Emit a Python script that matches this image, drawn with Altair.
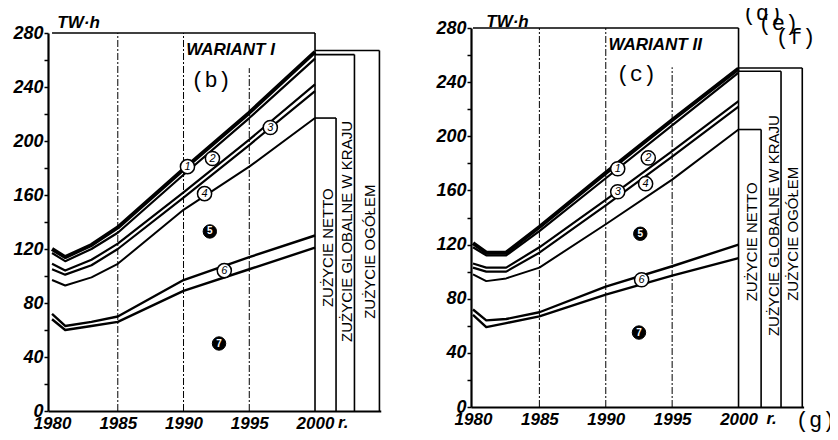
import altair as alt
import pandas as pd

SANS = "Liberation Sans"
MONO = "Liberation Mono"

# ---------------- WARIANT I (left panel) ----------------
years_a = [1980, 1981, 1983, 1985, 1990, 1995, 2000]
a1 = [120, 114, 123, 136, 179, 221, 266]
a2 = [117, 111, 120, 132, 175, 217, 261]
a3 = [109, 104, 112, 124, 162, 201, 242]
a4 = [105, 101, 108, 120, 158, 197, 237]
a5 = [97, 93, 99, 109, 149, 181, 217]
a6u = [72, 63, 66, 70, 97, 114, 130]
a6l = [68, 60, 63, 66, 89, 105, 121]

# ---------------- WARIANT II (right panel) ----------------
years_b = [1980, 1981, 1982.5, 1985, 1990, 1995, 2000]
b1 = [121, 114, 114, 133, 173, 212, 250]
b2 = [118, 112, 112, 130, 169, 208, 247]
b3 = [106, 103, 103, 118, 153, 189, 226]
b4 = [103, 100, 100, 114, 149, 185, 222]
b5 = [98, 93, 95, 103, 135, 168, 205]
b6u = [72, 64, 65, 70, 89, 104, 120]
b6l = [68, 59, 62, 67, 83, 97, 110]

line_widths = [4.0, 2.2, 2.2, 2.2, 2.0, 2.4, 2.4]

# consumption categories at year 2000 (bracket levels)
cat_labels = ["ZUŻYCIE NETTO", "ZUŻYCIE GLOBALNE W KRAJU", "ZUŻYCIE OGÓŁEM"]
a_levels = [217, 264, 267]
b_levels = [205, 248, 250.5]
a_ends = [2001.6, 2003.0, 2004.9]
b_ends = [2001.7, 2003.2, 2004.8]
a_txt_x = [2001.0, 2002.45, 2004.2]
a_txt_y = [121, 133, 118]
b_txt_x = [2001.05, 2002.65, 2004.1]
b_txt_y = [122, 134, 128]

# circled markers
circ_txt = ["1", "2", "3", "4", "5", "6", "7"]
circ_filled = [False, False, False, False, True, False, True]
a_circ_x = [1990.3, 1992.2, 1996.6, 1991.6, 1992.0, 1993.1, 1992.7]
a_circ_y = [181, 187, 210, 161, 133, 104, 50]
b_circ_x = [1990.9, 1993.2, 1990.9, 1993.0, 1992.6, 1992.7, 1992.5]
b_circ_y = [176, 184, 159, 165, 128, 94, 55]

x_ticks = [1980, 1985, 1990, 1995, 2000]
y_ticks = list(range(0, 281, 20))


def lines_df(years, series):
    rows = []
    for i, s in enumerate(series):
        for yr, v in zip(years, s):
            rows.append({"x": yr, "y": v, "s": i, "w": line_widths[i]})
    return pd.DataFrame(rows)


def panel(years, series, levels, ends, txt_x, txt_y, cx, cy, xdom, xr, yr,
          xoff, yoff, top95, title_pos, r_x, wariant, wariant_pos, letter,
          letter_pos, extra_letters=None):
    sx = alt.Scale(domain=xdom, range=xr, nice=False, zero=False)
    sy = alt.Scale(domain=[0, 280], range=yr, nice=False, zero=False)
    xa = alt.Axis(orient="bottom", offset=xoff, values=x_ticks, format="d",
                  ticks=False, tickSize=0, grid=False, domainWidth=2.2,
                  domainColor="black", labelColor="black", labelFont=SANS,
                  labelFontSize=17, labelFontStyle="italic", labelFontWeight="bold",
                  labelPadding=17, labelBaseline="alphabetic",
                  labelOverlap=False, labelFlush=False)
    ya = alt.Axis(orient="left", offset=yoff, values=y_ticks,
                  labelExpr="datum.value % 40 == 0 ? datum.label : ''",
                  tickSize=4, tickWidth=1.5, tickColor="black", grid=False,
                  domainWidth=2.2, domainColor="black", labelColor="black",
                  labelFont=SANS, labelFontSize=18, labelFontStyle="italic",
                  labelFontWeight="bold", labelPadding=1,
                  labelOverlap=False, labelFlush=False)
    X = alt.X("x:Q", scale=sx, axis=xa, title=None)
    Y = alt.Y("y:Q", scale=sy, axis=ya, title=None)

    grid = pd.DataFrame({"x": [1985, 1990, 1995], "y": [0, 0, 0],
                         "y2": [280, 280, top95]})
    g = alt.Chart(grid).mark_rule(color="black", strokeWidth=1,
                                  strokeDash=[7, 2, 2, 2]).encode(
        x=X, y=Y, y2=alt.Y2("y2:Q"))

    frame = pd.DataFrame({"x": [2000, 1980], "x2": [2000, 2000],
                          "y": [0, 280], "y2": [280, 280]})
    f = alt.Chart(frame).mark_rule(color="black", strokeWidth=1.6).encode(
        x=X, x2=alt.X2("x2:Q"), y=Y, y2=alt.Y2("y2:Q"))

    ldf = lines_df(years, series)
    ln = alt.Chart(ldf).mark_line(color="black", strokeJoin="round").encode(
        x=X, y=Y, detail="s:N",
        strokeWidth=alt.StrokeWidth("w:Q", scale=None, legend=None))

    br_rows = []
    for lev, e in zip(levels, ends):
        br_rows.append({"x": 2000, "x2": e, "y": lev, "y2": lev})
        br_rows.append({"x": e, "x2": e, "y": 0, "y2": lev})
    br = alt.Chart(pd.DataFrame(br_rows)).mark_rule(
        color="black", strokeWidth=1.6).encode(
        x=X, x2=alt.X2("x2:Q"), y=Y, y2=alt.Y2("y2:Q"))

    vt = alt.Chart(pd.DataFrame({"x": txt_x, "y": txt_y, "t": cat_labels})).mark_text(
        angle=270, align="center", baseline="middle", font=SANS, fontSize=15,
        color="black").encode(x=X, y=Y, text="t:N")

    cdf = pd.DataFrame({"x": cx, "y": cy, "t": circ_txt, "f": circ_filled})
    c_open = alt.Chart(cdf[~cdf.f]).mark_point(
        shape="circle", filled=True, fill="white", stroke="black",
        strokeWidth=1.5, size=200, opacity=1).encode(x=X, y=Y)
    c_open_t = alt.Chart(cdf[~cdf.f]).mark_text(
        font=SANS, fontSize=11, fontStyle="italic", color="black",
        align="center", baseline="middle").encode(x=X, y=Y, text="t:N")
    c_fill = alt.Chart(cdf[cdf.f]).mark_point(
        shape="circle", filled=True, fill="black", stroke="black",
        strokeWidth=1, size=180, opacity=1).encode(x=X, y=Y)
    c_fill_t = alt.Chart(cdf[cdf.f]).mark_text(
        font=SANS, fontSize=10, fontWeight="bold", color="white",
        align="center", baseline="middle").encode(x=X, y=Y, text="t:N")

    ttl = alt.Chart(pd.DataFrame({"x": [title_pos[0], r_x],
                                  "y": [title_pos[1], -12.6],
                                  "t": ["TW·h", "r."]})).mark_text(
        font=SANS, fontSize=17, fontStyle="italic", fontWeight="bold",
        align="left", baseline="alphabetic", color="black").encode(
        x=X, y=Y, text="t:N")

    war = alt.Chart(pd.DataFrame({"x": [wariant_pos[0]], "y": [wariant_pos[1]],
                                  "t": [wariant]})).mark_text(
        font=SANS, fontSize=17, fontStyle="italic", fontWeight="bold",
        align="left", baseline="alphabetic", color="black").encode(
        x=X, y=Y, text="t:N")

    lx = [letter_pos[0]]
    ly = [letter_pos[1]]
    lt = [letter]
    if extra_letters:
        for (ex, ey, et) in extra_letters:
            lx.append(ex)
            ly.append(ey)
            lt.append(et)
    let = alt.Chart(pd.DataFrame({"x": lx, "y": ly, "t": lt})).mark_text(
        font=MONO, fontSize=22, align="center", baseline="middle",
        color="black").encode(x=X, y=Y, text="t:N")

    return alt.layer(g, f, ln, br, vt, c_open, c_open_t, c_fill, c_fill_t,
                     ttl, war, let)


panel_a = panel(
    years_a, [a1, a2, a3, a4, a5, a6u, a6l], a_levels, a_ends, a_txt_x, a_txt_y,
    a_circ_x, a_circ_y, xdom=[1979.7, 2005.0], xr=[40.1, 372.75], yr=[403, 25],
    xoff=-21, yoff=-40, top95=254, title_pos=(1980.4, 283.7), r_x=2001.75,
    wariant="WARIANT I", wariant_pos=(1990.2, 263.7),
    letter="(b)", letter_pos=(1992.1, 245))

panel_b = panel(
    years_b, [b1, b2, b3, b4, b5, b6u, b6l], b_levels, b_ends, b_txt_x, b_txt_y,
    b_circ_x, b_circ_y, xdom=[1979.85, 2004.9], xr=[463.0, 795.6], yr=[399, 20],
    xoff=-25, yoff=-463, top95=251, title_pos=(1981.0, 280.6), r_x=2002.1,
    wariant="WARIANT II", wariant_pos=(1990.2, 263.7),
    letter="(c)", letter_pos=(1992.3, 246),
    extra_letters=[(2001.8, 291, "(d)"), (2003.0, 284, "(e)"),
                   (2004.3, 273, "(f)"), (2005.8, -9.6, "(g)")])

chart = alt.layer(panel_a, panel_b).resolve_scale(
    x="independent", y="independent").properties(
    width=822, height=424, padding=0,
    autosize=alt.AutoSizeParams(type="none"),
    background="white").configure_view(stroke=None)

chart.save("out.html", embed_options={"renderer": "svg", "actions": False})
